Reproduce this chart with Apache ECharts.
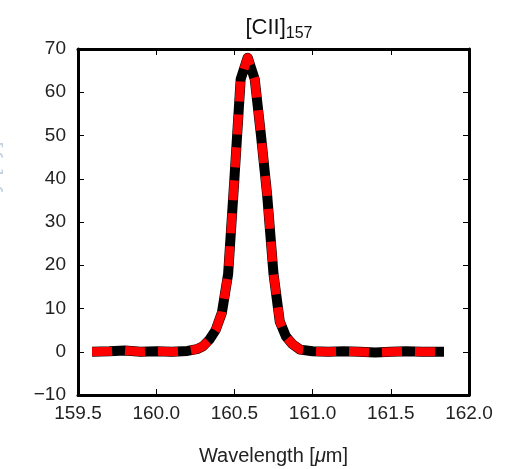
<!DOCTYPE html>
<html>
<head>
<meta charset="utf-8">
<script src="https://cdn.jsdelivr.net/npm/echarts@6/dist/echarts.min.js"></script>
<style>
html,body{margin:0;padding:0;background:#fff;}
#chart{width:508px;height:469px;}
</style>
</head>
<body>
<div id="chart"></div>
<script>
// Data
var wavelength = [159.59, 159.7, 159.8, 159.9, 160.0, 160.1, 160.2, 160.26, 160.30, 160.34, 160.38, 160.42, 160.46, 160.50, 160.54, 160.585, 160.63, 160.67, 160.71, 160.75, 160.79, 160.83, 160.87, 160.92, 161.0, 161.1, 161.2, 161.3, 161.4, 161.5, 161.6, 161.7, 161.84];
var flux = [0.0, 0.1, 0.3, 0.0, 0.1, 0.0, 0.2, 0.6, 1.3, 2.8, 5.0, 9.0, 18, 40, 63, 68, 63, 50, 36, 18, 7, 3.5, 1.8, 0.5, 0.1, 0.0, 0.1, 0.0, -0.2, 0.0, 0.1, 0.0, 0.0];
var xTicks = [159.5, 160.0, 160.5, 161.0, 161.5, 162.0];
var yTicks = [-10, 0, 10, 20, 30, 40, 50, 60, 70];

var pts = wavelength.map(function (w, i) { return [w, flux[i]]; });

var font = 'Liberation Sans, Arial, Helvetica, sans-serif';
var chart = echarts.init(document.getElementById('chart'), null, {renderer: 'canvas'});

function axisCommon(extra) {
  var base = {
    axisLine: {show: true, onZero: false, lineStyle: {color: '#000', width: 3}},
    axisTick: {show: true, inside: true, length: 6, lineStyle: {color: '#000', width: 1}},
    splitLine: {show: false}
  };
  for (var k in extra) base[k] = extra[k];
  return base;
}

chart.setOption({
  backgroundColor: '#fff',
  animation: false,
  title: {
    text: '{a|[CII]}{s|157}',
    left: 274,
    textAlign: 'center',
    top: 8,
    textStyle: {
      fontWeight: 'normal',
      rich: {
        a: {fontFamily: font, fontSize: 22, fontWeight: 'normal', color: '#111'},
        s: {fontFamily: font, fontSize: 16, fontWeight: 'normal', color: '#111', verticalAlign: 'bottom', padding: [13, 0, 0, 0]}
      }
    }
  },
  grid: {left: 78, right: 39, top: 49, bottom: 74, containLabel: false, outerBoundsMode: 'none'},
  xAxis: [
    axisCommon({
      type: 'value', min: xTicks[0], max: xTicks[xTicks.length - 1], interval: 0.5,
      position: 'bottom',
      name: 'Wavelength [{i|μ}m]',
      nameLocation: 'middle', nameGap: 51,
      nameTextStyle: {fontFamily: font, fontSize: 20, color: '#222', rich: {i: {fontFamily: font, fontSize: 20, fontStyle: 'italic', color: '#222'}}},
      axisLabel: {fontFamily: font, fontSize: 19, color: '#222', margin: 9,
        formatter: function (v) { return v.toFixed(1); }}
    }),
    axisCommon({
      type: 'value', min: xTicks[0], max: xTicks[xTicks.length - 1], interval: 0.5,
      position: 'top', axisLabel: {show: false}
    })
  ],
  yAxis: [
    axisCommon({
      type: 'value', min: yTicks[0], max: yTicks[yTicks.length - 1], interval: 10,
      position: 'left',
      name: 'Flux Density [Jy]',
      nameLocation: 'middle', nameGap: 75, nameRotate: 90,
      nameTextStyle: {fontFamily: font, fontSize: 22, color: '#c4d2e2'},
      axisLabel: {fontFamily: font, fontSize: 19, color: '#222', margin: 12,
        formatter: function (v) { return String(v).replace('-', '\u2212'); }}
    }),
    axisCommon({
      type: 'value', min: yTicks[0], max: yTicks[yTicks.length - 1], interval: 10,
      position: 'right', axisLabel: {show: false}
    })
  ],
  series: [
    {
      type: 'line', data: pts, showSymbol: false, smooth: false, z: 2,
      lineStyle: {color: '#000', width: 10, cap: 'butt', join: 'round'}
    },
    {
      type: 'line', data: pts, showSymbol: false, smooth: false, z: 3,
      lineStyle: {color: '#ff0000', width: 9, type: [20, 13], cap: 'butt', join: 'round'}
    }
  ]
});
</script>
</body>
</html>
